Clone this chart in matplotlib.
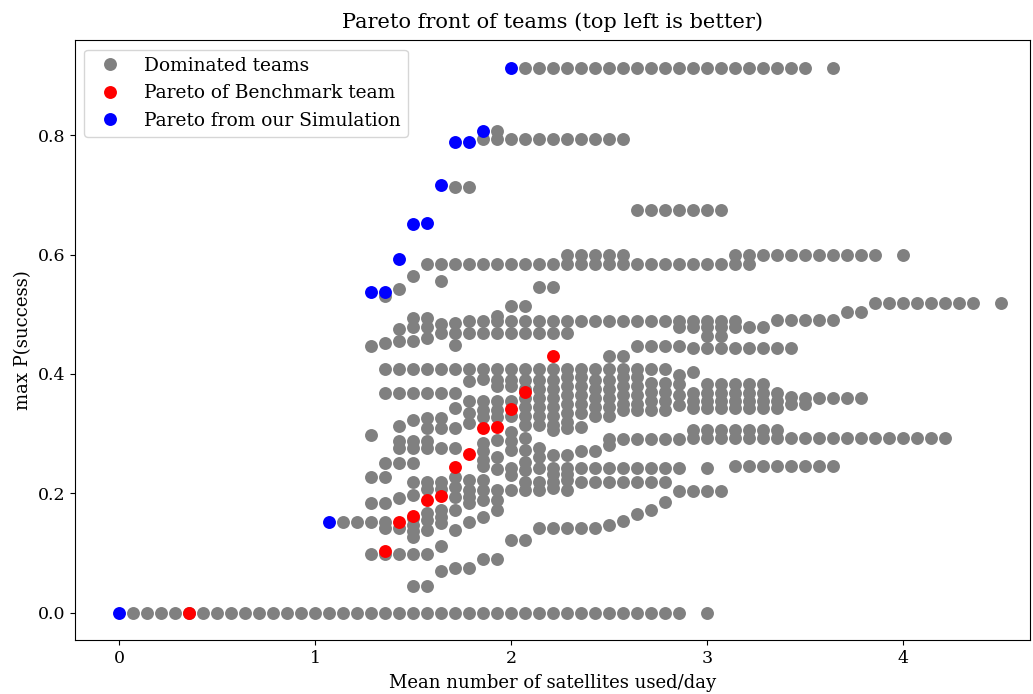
import numpy as np
import matplotlib
matplotlib.use("Agg")
import matplotlib.pyplot as plt

plt.rcParams['font.family'] = 'DejaVu Serif'

# x values sit on a grid of k/14 (mean satellites per day), y = max P(success)
STEP = 14.0

# Pareto of benchmark team (k, y)
bench_k = [5, 19, 20, 21, 22, 23, 24, 25, 26, 27, 28, 29, 31]
bench_y = [0.0, 0.104, 0.151, 0.162, 0.189, 0.195, 0.244, 0.266, 0.310, 0.311, 0.341, 0.370, 0.430]

# Pareto from our simulation (k, y)
sim_k = [0, 15, 18, 19, 20, 21, 22, 23, 24, 25, 26, 28]
sim_y = [0.0, 0.151, 0.537, 0.537, 0.592, 0.651, 0.653, 0.716, 0.788, 0.788, 0.807, 0.913]

# dominated teams, horizontal runs: (y, list of k)
dom_rows = [
    (0.913, list(range(29, 50)) + [51]),
    (0.807, [27]),
    (0.793, list(range(26, 37))),
    (0.713, [24, 25]),
    (0.674, list(range(37, 44))),
    (0.599, list(range(32, 37)) + list(range(44, 55)) + [56]),
    (0.584, list(range(22, 46))),
    (0.564, [21]), (0.556, [23]), (0.546, [30, 31]), (0.542, [20]), (0.531, [19]),
    (0.519, list(range(54, 62)) + [63]),
    (0.514, [28, 29]),
    (0.504, [52, 53]),
    (0.493, [21, 22]), (0.478, [21, 22]), (0.483, [23]), (0.486, [24]),
    (0.489, list(range(25, 45))),
    (0.497, [27]),
    (0.479, list(range(40, 47))),
    (0.490, list(range(47, 52))),
    (0.475, [20]),
    (0.469, list(range(23, 33))),
    (0.463, [42, 43]),
    (0.447, [18]), (0.452, [19]), (0.455, [20, 21]), (0.460, [22]), (0.449, [24]),
    (0.447, list(range(37, 41))),
    (0.443, list(range(41, 49))),
    (0.430, [35, 36]),
    (0.408, list(range(19, 40))),
    (0.398, [40]), (0.403, [41]),
    (0.383, list(range(42, 47))),
    (0.368, list(range(19, 25))),
    (0.368, list(range(41, 48))),
    (0.355, list(range(41, 48))),
    (0.343, list(range(41, 48))),
    (0.362, [48]), (0.350, [48, 49]),
    (0.360, list(range(49, 54))),
    (0.306, list(range(41, 48))),
    (0.293, list(range(41, 60))),
    (0.245, list(range(44, 52))),
    (0.204, [40, 41, 42, 43]),
    (0.151, [16, 17, 18, 19]),
    (0.0, list(range(1, 41)) + [42]),
]

# dominated teams, vertical stacks in the dense middle: (k, list of y)
dom_cols = [
    (18, [0.298, 0.228, 0.184, 0.099]),
    (19, [0.251, 0.228, 0.184, 0.142, 0.099]),
    (20, [0.312, 0.288, 0.276, 0.251, 0.192, 0.142, 0.099]),
    (21, [0.323, 0.288, 0.276, 0.251, 0.219, 0.197, 0.159, 0.147, 0.136, 0.126, 0.099, 0.044]),
    (22, [0.326, 0.310, 0.288, 0.276, 0.219, 0.207, 0.167, 0.155, 0.139, 0.099, 0.044]),
    (23, [0.326, 0.310, 0.276, 0.219, 0.207, 0.172, 0.160, 0.150, 0.112, 0.069]),
    (24, [0.343, 0.310, 0.276, 0.228, 0.211, 0.194, 0.172, 0.139, 0.075]),
    (25, [0.388, 0.355, 0.335, 0.318, 0.222, 0.206, 0.194, 0.184, 0.151, 0.075]),
    (26, [0.391, 0.355, 0.340, 0.328, 0.285, 0.270, 0.255, 0.245, 0.222, 0.206, 0.189, 0.161, 0.090]),
    (27, [0.390, 0.380, 0.355, 0.340, 0.328, 0.290, 0.261, 0.240, 0.206, 0.189, 0.172, 0.090]),
    (28, [0.390, 0.380, 0.355, 0.330, 0.303, 0.288, 0.273, 0.243, 0.231, 0.206, 0.121]),
    (29, [0.390, 0.375, 0.360, 0.345, 0.330, 0.315, 0.293, 0.273, 0.253, 0.239, 0.218, 0.206, 0.121]),
    (30, [0.390, 0.375, 0.360, 0.345, 0.330, 0.315, 0.276, 0.261, 0.243, 0.218, 0.206, 0.142]),
    (31, [0.390, 0.375, 0.360, 0.345, 0.330, 0.315, 0.306, 0.264, 0.243, 0.232, 0.219, 0.208, 0.142]),
    (32, [0.395, 0.380, 0.365, 0.350, 0.335, 0.320, 0.310, 0.264, 0.243, 0.232, 0.222, 0.206, 0.142]),
    (33, [0.395, 0.380, 0.365, 0.350, 0.335, 0.311, 0.270, 0.243, 0.219, 0.142]),
    (34, [0.390, 0.375, 0.360, 0.345, 0.330, 0.271, 0.243, 0.219, 0.142]),
    (35, [0.390, 0.375, 0.360, 0.345, 0.330, 0.291, 0.280, 0.243, 0.219, 0.147]),
    (36, [0.395, 0.380, 0.365, 0.350, 0.340, 0.291, 0.243, 0.219, 0.153]),
    (37, [0.395, 0.380, 0.365, 0.350, 0.340, 0.291, 0.243, 0.219, 0.166]),
    (38, [0.385, 0.370, 0.355, 0.340, 0.291, 0.243, 0.219, 0.172]),
    (39, [0.385, 0.370, 0.355, 0.340, 0.291, 0.243, 0.219, 0.186]),
    (40, [0.383, 0.365, 0.348, 0.291, 0.243]),
    (42, [0.243]),
]

dom_x, dom_y = [], []
for y, ks in dom_rows:
    for k in ks:
        dom_x.append(k / STEP)
        dom_y.append(y)
for k, ys in dom_cols:
    for y in ys:
        dom_x.append(k / STEP)
        dom_y.append(y)

fig = plt.figure(figsize=(10.33, 6.94), dpi=100)
ax = fig.add_axes([0.0726, 0.078, 0.9245, 0.864])

ms = 9.3
style = dict(linestyle='none', markersize=ms, markeredgewidth=0)
ax.plot(dom_x, dom_y, 'o', color='grey', label='Dominated teams', **style)
ax.plot(np.array(bench_k) / STEP, bench_y, 'o', color='red', label='Pareto of Benchmark team', **style)
ax.plot(np.array(sim_k) / STEP, sim_y, 'o', color='blue', label='Pareto from our Simulation', **style)

ax.set_xlim(-0.225, 4.648)
ax.set_ylim(-0.0457, 0.959)
ax.set_xticks([0, 1, 2, 3, 4])
ax.set_yticks([0.0, 0.2, 0.4, 0.6, 0.8])
ax.tick_params(labelsize=12.5)

ax.set_title('Pareto front of teams (top left is better)', fontsize=15, pad=9)
ax.set_xlabel('Mean number of satellites used/day', fontsize=13, labelpad=5)
ax.set_ylabel('max P(success)', fontsize=13)
ax.legend(loc='upper left', fontsize=13.4, borderaxespad=0.5)

fig.savefig('out.png', dpi=100)
